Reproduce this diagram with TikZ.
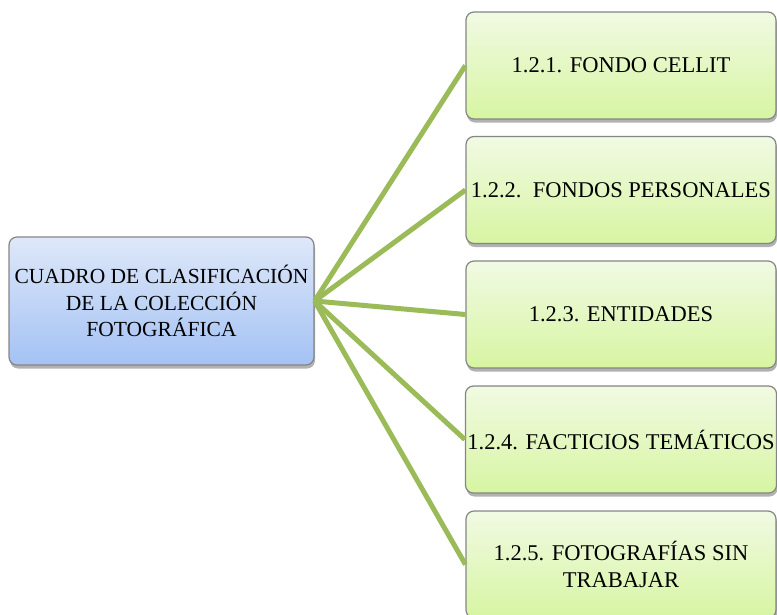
\documentclass[tikz,border=0pt]{standalone}
\usepackage{fontspec}
\setmainfont{Liberation Serif}
\usetikzlibrary{shadows}
\definecolor{linkgreen}{HTML}{9BBB59}
\definecolor{gtop}{HTML}{F1FAE3}
\definecolor{gbot}{HTML}{D7F5A2}
\definecolor{btop}{HTML}{DEE8F9}
\definecolor{bbot}{HTML}{A4C2F4}
\definecolor{edgegray}{HTML}{858585}
\tikzset{
  boxbase/.style={draw=edgegray, line width=1.2pt, rounded corners=8pt, align=center,
    inner sep=2pt,
    drop shadow={shadow xshift=1pt, shadow yshift=-3.5pt, opacity=0.3, fill=black}},
  rootbox/.style={boxbase, top color=btop, bottom color=bbot,
    font=\fontsize{21.5}{26.5}\selectfont,
    minimum width=305pt, minimum height=128pt},
  leafbox/.style={boxbase, top color=gtop, bottom color=gbot,
    font=\fontsize{22.5}{26.5}\selectfont,
    minimum width=310pt, minimum height=107pt},
  link/.style={draw=linkgreen, line width=5pt}
}
\begin{document}
\begin{tikzpicture}[x=1pt,y=-1pt]
\useasboundingbox (0,0) rectangle (777,614);
\node[rootbox] (root) at (161.5,301) {CUADRO DE CLASIFICACIÓN\\DE LA COLECCIÓN\\FOTOGRÁFICA};
\node[leafbox] (b1) at (621,65.5) {1.2.1. FONDO CELLIT};
\node[leafbox] (b2) at (621,190) {1.2.2.\ \ FONDOS PERSONALES};
\node[leafbox] (b3) at (621,314.5) {1.2.3. ENTIDADES};
\node[leafbox] (b4) at (621,439.5) {1.2.4. FACTICIOS TEMÁTICOS};
\node[leafbox] (b5) at (621,564.5) {1.2.5. FOTOGRAFÍAS SIN\\TRABAJAR};
\foreach \b in {b1,b2,b3,b4,b5}
  \draw[link] (root.east) -- (\b.west);
\end{tikzpicture}
\end{document}
